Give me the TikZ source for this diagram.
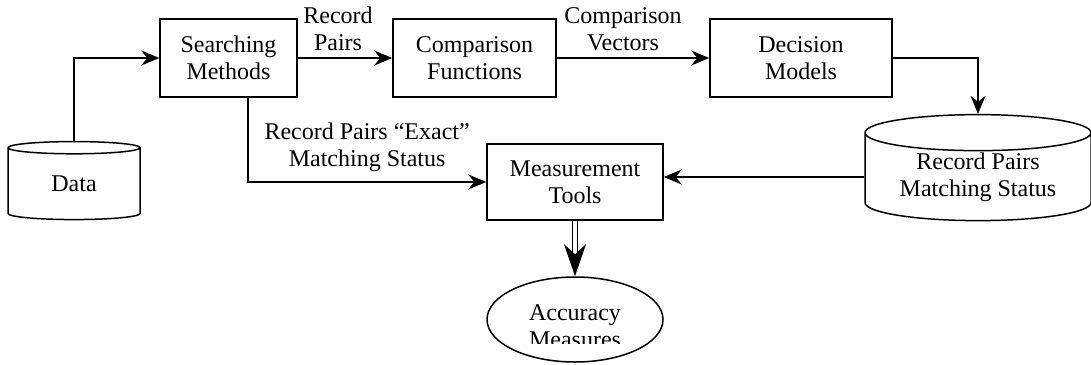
\documentclass[tikz,border=0pt]{standalone}
\usepackage{fontspec}
\setmainfont{Liberation Serif}
\usetikzlibrary{positioning}
\usetikzlibrary{arrows.meta,shapes}

\begin{document}
\begin{tikzpicture}[x=1pt,y=-1pt,on grid,line width=1.5pt,
  font=\fontsize{24}{27}\selectfont,
  >={Stealth[length=18pt,width=15pt,inset=6pt]},
  block/.style={draw,rectangle,align=center,inner sep=0pt,minimum height=78pt},
  store/.style={draw,cylinder,shape border rotate=90,align=center,inner sep=0pt}]
  \useasboundingbox (0,0) rectangle (1091,364);
  % top row
  \node[block,minimum width=137pt] (search) at (228.5,58) {Searching\\Methods};
  \node[block,minimum width=163pt] (comp) [right=246pt of search] {Comparison\\Functions};
  \node[block,minimum width=182pt] (dec) [right=326.5pt of comp] {Decision\\Models};
  % stores
  \node[store,minimum width=132pt,minimum height=78pt,aspect=0.27] (data) at (74,184) {Data};
  \node[store,minimum width=226pt,minimum height=106pt,aspect=0.23] (rp) at (978,177) {Record Pairs\\Matching Status};
  % bottom part
  \node[block,minimum width=176pt,minimum height=76pt] (meas) at (575,182) {Measurement\\Tools};
  \node[draw,ellipse,minimum width=176pt,minimum height=85pt] (acc) [below=137.5pt of meas] {};
  \begin{scope}
    \clip (480,250) rectangle (670,343);
    \node[align=center] (acctext) at ([yshift=-7pt]acc.center) {Accuracy\\Measures};
  \end{scope}

  \draw[->] (data.north) |- (search.west);
  \draw[->] (search) -- node[above=3pt,xshift=-7pt,align=center] {Record\\Pairs} (comp);
  \draw[->] (comp) -- node[above=3pt,xshift=-10pt,align=center] {Comparison\\Vectors} (dec);
  \draw[->] (dec.east) -| (rp.north);
  \draw[->] ([xshift=19.5pt]search.south) |- node[pos=0.75,above=6pt,align=center] {Record Pairs ``Exact''\\Matching Status} (meas.west);
  \draw[->] (rp.west) -- (rp.west -| meas.east);
  \draw[double,double distance=3.5pt,-{Stealth[length=32pt,width=22pt,inset=10pt]}] (meas) -- (acc);
\end{tikzpicture}
\end{document}
